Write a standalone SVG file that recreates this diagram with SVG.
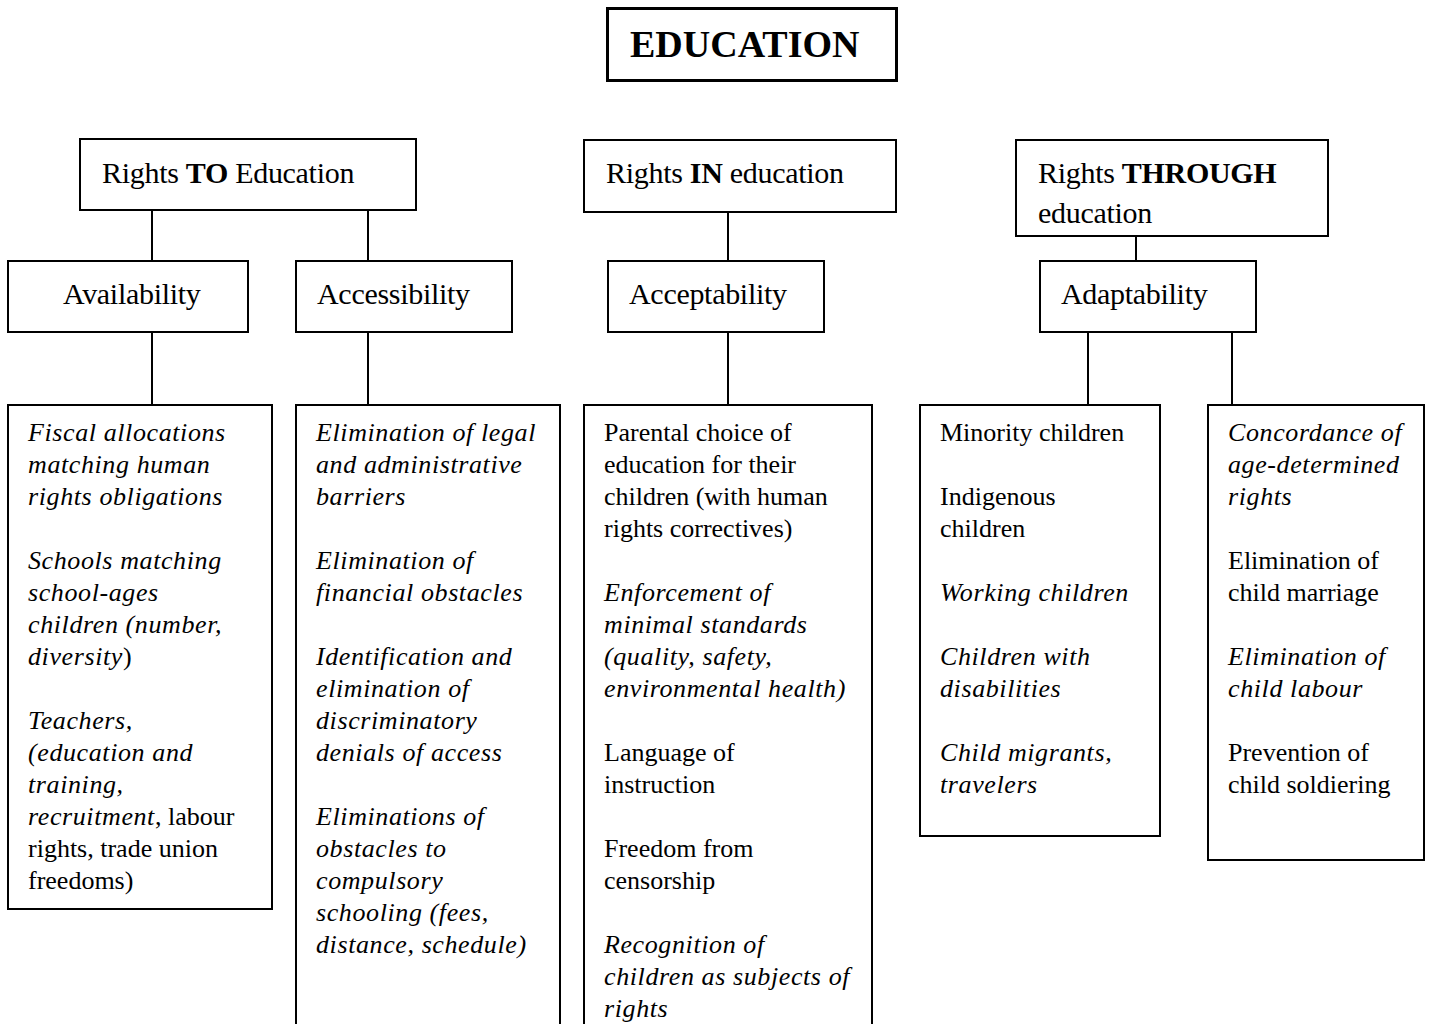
<svg xmlns="http://www.w3.org/2000/svg" width="1432" height="1024" viewBox="0 0 1432 1024">
<style>
rect{fill:#fff;stroke:#000;stroke-width:2}
.conn line{stroke:#000;stroke-width:2}
text{font-family:"Liberation Serif","Times New Roman",serif;fill:#000}
.hd{font-size:30px;letter-spacing:-0.3px}
.bd{font-size:26px}
.i{font-style:italic;letter-spacing:0.6px}
.b{font-weight:bold}
</style>
<g class="conn">
<line x1="152" y1="210" x2="152" y2="261"/>
<line x1="368" y1="210" x2="368" y2="261"/>
<line x1="728" y1="212" x2="728" y2="261"/>
<line x1="1136" y1="236" x2="1136" y2="261"/>
<line x1="152" y1="332" x2="152" y2="405"/>
<line x1="368" y1="332" x2="368" y2="405"/>
<line x1="728" y1="332" x2="728" y2="405"/>
<line x1="1088" y1="332" x2="1088" y2="405"/>
<line x1="1232" y1="332" x2="1232" y2="405"/>
</g>
<g id="education">
<rect x="607.5" y="8.5" width="289" height="72" style="stroke-width:3"/>
<text x="630" y="57" class="b" style="font-size:38px">EDUCATION</text>
</g>
<g id="rights-to">
<rect x="80" y="139" width="336" height="71"/>
<text x="102" y="183" class="hd">Rights <tspan class="b">TO</tspan> Education</text>
</g>
<g id="rights-in">
<rect x="584" y="140" width="312" height="72"/>
<text x="606" y="183" class="hd">Rights <tspan class="b">IN</tspan> education</text>
</g>
<g id="rights-through">
<rect x="1016" y="140" width="312" height="96"/>
<text x="1038" y="183" class="hd">Rights <tspan class="b">THROUGH</tspan></text>
<text x="1038" y="223" class="hd">education</text>
</g>
<g id="availability">
<rect x="8" y="261" width="240" height="71"/>
<text x="63" y="304" class="hd">Availability</text>
</g>
<g id="accessibility">
<rect x="296" y="261" width="216" height="71"/>
<text x="317" y="304" class="hd">Accessibility</text>
</g>
<g id="acceptability">
<rect x="608" y="261" width="216" height="71"/>
<text x="629" y="304" class="hd">Acceptability</text>
</g>
<g id="adaptability">
<rect x="1040" y="261" width="216" height="71"/>
<text x="1061" y="304" class="hd">Adaptability</text>
</g>
<g id="availability-items">
<rect x="8" y="405" width="264" height="504"/>
<text class="bd">
<tspan class="i" x="28" y="441">Fiscal allocations</tspan>
<tspan class="i" x="28" y="473">matching human</tspan>
<tspan class="i" x="28" y="505">rights obligations</tspan>
<tspan class="i" x="28" y="569">Schools matching</tspan>
<tspan class="i" x="28" y="601">school-ages</tspan>
<tspan class="i" x="28" y="633">children (number,</tspan>
<tspan class="i" x="28" y="665">diversity</tspan><tspan>)</tspan>
<tspan class="i" x="28" y="729">Teachers,</tspan>
<tspan class="i" x="28" y="761">(education and</tspan>
<tspan class="i" x="28" y="793">training,</tspan>
<tspan class="i" x="28" y="825">recruitment</tspan><tspan>, labour</tspan>
<tspan x="28" y="857">rights, trade union</tspan>
<tspan x="28" y="889">freedoms)</tspan>
</text>
</g>
<g id="accessibility-items">
<rect x="296" y="405" width="264" height="630"/>
<text class="bd i">
<tspan x="316" y="441">Elimination of legal</tspan>
<tspan x="316" y="473">and administrative</tspan>
<tspan x="316" y="505">barriers</tspan>
<tspan x="316" y="569">Elimination of</tspan>
<tspan x="316" y="601">financial obstacles</tspan>
<tspan x="316" y="665">Identification and</tspan>
<tspan x="316" y="697">elimination of</tspan>
<tspan x="316" y="729">discriminatory</tspan>
<tspan x="316" y="761">denials of access</tspan>
<tspan x="316" y="825">Eliminations of</tspan>
<tspan x="316" y="857">obstacles to</tspan>
<tspan x="316" y="889">compulsory</tspan>
<tspan x="316" y="921">schooling (fees,</tspan>
<tspan x="316" y="953">distance, schedule)</tspan>
</text>
</g>
<g id="acceptability-items">
<rect x="584" y="405" width="288" height="630"/>
<text class="bd">
<tspan x="604" y="441">Parental choice of</tspan>
<tspan x="604" y="473">education for their</tspan>
<tspan x="604" y="505">children (with human</tspan>
<tspan x="604" y="537">rights correctives)</tspan>
<tspan class="i" x="604" y="601">Enforcement of</tspan>
<tspan class="i" x="604" y="633">minimal standards</tspan>
<tspan class="i" x="604" y="665">(quality, safety,</tspan>
<tspan class="i" x="604" y="697">environmental health)</tspan>
<tspan x="604" y="761">Language of</tspan>
<tspan x="604" y="793">instruction</tspan>
<tspan x="604" y="857">Freedom from</tspan>
<tspan x="604" y="889">censorship</tspan>
<tspan class="i" x="604" y="953">Recognition of</tspan>
<tspan class="i" x="604" y="985">children as subjects of</tspan>
<tspan class="i" x="604" y="1017">rights</tspan>
</text>
</g>
<g id="adaptability-groups">
<rect x="920" y="405" width="240" height="431"/>
<text class="bd">
<tspan x="940" y="441">Minority children</tspan>
<tspan x="940" y="505">Indigenous</tspan>
<tspan x="940" y="537">children</tspan>
<tspan class="i" x="940" y="601">Working children</tspan>
<tspan class="i" x="940" y="665">Children with</tspan>
<tspan class="i" x="940" y="697">disabilities</tspan>
<tspan class="i" x="940" y="761">Child migrants,</tspan>
<tspan class="i" x="940" y="793">travelers</tspan>
</text>
</g>
<g id="adaptability-rights">
<rect x="1208" y="405" width="216" height="455"/>
<text class="bd">
<tspan class="i" x="1228" y="441">Concordance of</tspan>
<tspan class="i" x="1228" y="473">age-determined</tspan>
<tspan class="i" x="1228" y="505">rights</tspan>
<tspan x="1228" y="569">Elimination of</tspan>
<tspan x="1228" y="601">child marriage</tspan>
<tspan class="i" x="1228" y="665">Elimination of</tspan>
<tspan class="i" x="1228" y="697">child labour</tspan>
<tspan x="1228" y="761">Prevention of</tspan>
<tspan x="1228" y="793">child soldiering</tspan>
</text>
</g>
</svg>
